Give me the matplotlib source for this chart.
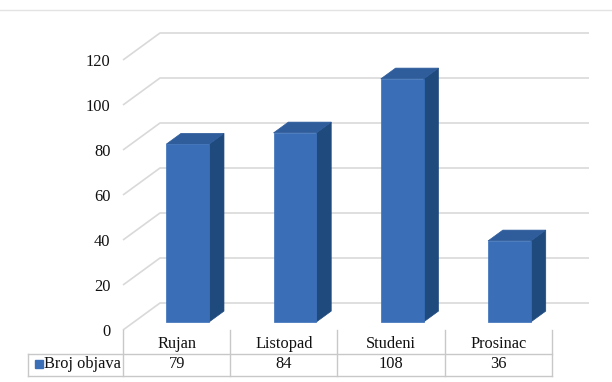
import matplotlib
matplotlib.use('Agg')
import matplotlib.pyplot as plt
from matplotlib.patches import Polygon
from matplotlib.lines import Line2D

categories = ['Rujan', 'Listopad', 'Studeni', 'Prosinac']
values = [79, 84, 108, 36]
series_name = 'Broj objava'
yticks = [0, 20, 40, 60, 80, 100, 120]

plt.rcParams['font.family'] = ['Liberation Serif', 'DejaVu Serif']

W, H = 612, 382
fig = plt.figure(figsize=(W / 100, H / 100), dpi=100)
fig.patch.set_facecolor('white')

# front plane box in pixels
x0px, x1px = 123, 552
y0px, ytop_px = 330, 60
ax = fig.add_axes([x0px / W, (H - y0px) / H, (x1px - x0px) / W, (y0px - ytop_px) / H])
ax.set_xlim(-0.5, len(categories) - 0.5)
ax.set_ylim(0, 120)
ax.set_facecolor('none')
for s in ax.spines.values():
    s.set_visible(False)
ax.set_xticks([])
ax.set_yticks(yticks)
ax.tick_params(axis='y', length=0, pad=9, labelsize=11.8, labelcolor='#111111')

px_per_cat = (x1px - x0px) / len(categories)
px_per_val = (y0px - ytop_px) / 120.0
DX = 37 / px_per_cat   # depth offset, category units
DY = 27 / px_per_val   # depth offset, value units
grid_c = '#D9D9D9'
xl_, xr_ = -0.5, len(categories) - 0.5

# walls / gridlines
for v in yticks:
    ax.plot([xl_, xl_ + DX, xr_ + DX], [v, v + DY, v + DY], color=grid_c, lw=1.2,
            clip_on=False, zorder=1, solid_capstyle='butt')

# bars
a0, a1 = 0.3, 0.7
bw = 0.4
front_c, top_c, side_c = '#3A6FB8', '#2F5D9C', '#1F4A7E'
for i, v in enumerate(values):
    xl, xr = i - bw / 2, i + bw / 2
    ox0, oy0 = a0 * DX, a0 * DY
    ox1, oy1 = a1 * DX, a1 * DY
    side = [(xr + ox0, oy0), (xr + ox1, oy1), (xr + ox1, v + oy1), (xr + ox0, v + oy0)]
    top = [(xl + ox0, v + oy0), (xr + ox0, v + oy0), (xr + ox1, v + oy1), (xl + ox1, v + oy1)]
    front = [(xl + ox0, oy0), (xr + ox0, oy0), (xr + ox0, v + oy0), (xl + ox0, v + oy0)]
    for pts, c in ((side, side_c), (top, top_c), (front, front_c)):
        ax.add_patch(Polygon(pts, closed=True, facecolor=c, edgecolor=c, lw=0.5,
                             clip_on=False, zorder=3))

# data table
tab_c = '#C8C8C8'
def vy(px):
    return -(px - y0px) / px_per_val
def vx(px):
    return xl_ + (px - x0px) / px_per_cat

row1_bot = vy(354)
row2_bot = vy(376)
left = vx(28)
for k in range(len(categories) + 1):
    xk = xl_ + k
    ax.plot([xk, xk], [0, row2_bot], color=tab_c, lw=1, clip_on=False)
ax.plot([left, left], [row1_bot, row2_bot], color=tab_c, lw=1, clip_on=False)
ax.plot([left, xr_], [row1_bot, row1_bot], color=tab_c, lw=1, clip_on=False)
ax.plot([left, xr_], [row2_bot, row2_bot], color=tab_c, lw=1, clip_on=False)

for i, (c, v) in enumerate(zip(categories, values)):
    ax.text(i, vy(344.5), c, ha='center', va='center', fontsize=11.8, color='#111111', clip_on=False)
    ax.text(i, vy(364.5), str(v), ha='center', va='center', fontsize=11.8, color='#111111', clip_on=False)

ax.plot([vx(38.5)], [vy(364)], marker='s', markersize=5.4, color=front_c, clip_on=False,
        linestyle='none')
ax.text(vx(44), vy(364.5), series_name, ha='left', va='center', fontsize=11.8, color='#111111',
        clip_on=False)

# faint top frame line
fig.add_artist(Line2D([0, 1], [1 - 10 / H, 1 - 10 / H], color='#E3E3E3', lw=1))

fig.savefig('out.png', dpi=100, facecolor='white')
